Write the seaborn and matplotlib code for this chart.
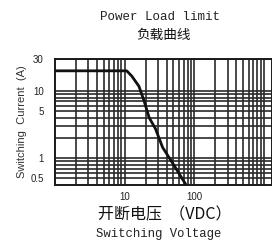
import numpy as np
import pandas as pd
import matplotlib
matplotlib.use("Agg")
import matplotlib.pyplot as plt
import seaborn as sns

# Curve (voltage in VDC, current in A)
voltage = [1, 10.7, 12.7, 16, 19, 22.5, 27.6, 35, 49, 75]
current = [20, 20, 16.6, 11.8, 7.1, 4.0, 2.76, 1.45, 0.84, 0.41]

x_grid = [2, 3, 4, 5, 6, 7, 8, 9, 10, 20, 30, 40, 50, 60, 70, 80, 90,
          100, 200, 300, 400, 500, 600, 700, 800, 900, 1000]
x_labels = {10: "10", 100: "100"}
y_grid = [0.5, 0.6, 0.7, 0.8, 0.9, 1, 2, 3, 4, 5, 6, 7, 8, 9, 10, 30]
y_labels = {0.5: "0.5", 1: "1", 5: "5", 10: "10", 30: "30"}

sns.set_style("white")
plt.rcParams['font.family'] = ['Liberation Sans', 'Noto Sans CJK SC', 'DejaVu Sans']

df = pd.DataFrame({"voltage": voltage, "current": current})

fig = plt.figure(figsize=(2.72, 2.40), dpi=100)
ax = fig.add_axes([55 / 272, 1 - 185 / 240, 217 / 272, 126 / 240])

sns.lineplot(data=df, x="voltage", y="current", ax=ax, color="#111111",
             linewidth=2.0, zorder=5)

ax.set_xscale("log")
ax.set_yscale("log")
ax.set_xlim(1, 1300)
ax.set_ylim(0.4, 30)

ax.set_xticks(x_grid)
ax.set_xticklabels([x_labels.get(v, "") for v in x_grid])
ax.set_yticks(y_grid)
ax.set_yticklabels([y_labels.get(v, "") for v in y_grid])
ax.minorticks_off()
ax.tick_params(length=0, labelsize=7, colors="#222222")
ax.tick_params(axis="y", pad=8)
ax.tick_params(axis="x", pad=5)
ax.grid(True, color="#2a2a2a", linewidth=1.2)

for s in ax.spines.values():
    s.set_color("#1a1a1a")
    s.set_linewidth(1.4)

ax.set_xlabel("")
ax.set_ylabel("Switching  Current  (A)", fontsize=8, color="#333333")
ax.yaxis.set_label_coords(-0.13, 0.5)

fig.text(0.59, 0.93, "Power Load limit", ha="center", va="center",
         family="Liberation Mono", fontsize=9, color="#222222")
fig.text(0.60, 0.855, "负载曲线", ha="center", va="center",
         family=["Noto Sans CJK SC"], fontsize=9.8, color="#111111")
fig.text(0.605, 0.105, "开断电压  （VDC）", ha="center", va="center",
         family=["Noto Sans CJK SC", "DejaVu Sans"], fontsize=11.5, color="#111111")
fig.text(0.585, 0.025, "Switching Voltage", ha="center", va="center",
         family="Liberation Mono", fontsize=8.8, color="#222222")

fig.savefig("out.png", dpi=100)
